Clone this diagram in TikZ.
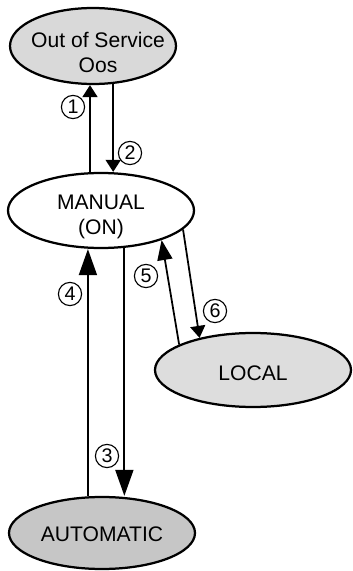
\documentclass[tikz,border=0pt]{standalone}
\usepackage{fontspec}
\setmainfont{Liberation Sans}
\usetikzlibrary{arrows.meta,shapes.geometric}

\begin{document}
\begin{tikzpicture}[line join=round]
    \tikzset{mode/.style={draw, ellipse, line width=1.6pt, inner sep=0pt},
             txt/.style={font=\fontsize{15}{18}\selectfont, align=center},
             arr/.style={line width=1.25pt,
                         -{Triangle[length=0.3cm, width=0.375cm]}},
             longarr/.style={line width=1.25pt,
                         -{Triangle[length=0.65cm, width=0.45cm]}},
             num/.style={draw, circle, line width=0.8pt, inner sep=0pt,
                         minimum size=0.58cm, font=\fontsize{14}{16}\selectfont}}
    \useasboundingbox (0,0) rectangle (8.825,14.275);
    % states
    \node[mode, fill=gray!30, minimum width=4.15cm, minimum height=1.9cm]
      (oos) at (2.325,13.125) {};
    \node[txt] (oostxt) at (2.45,12.97) {Out of Service\\Oos};
    \node[mode, fill=white, minimum width=4.65cm, minimum height=1.875cm]
      (manual) at (2.525,9.0125) {};
    \node[txt] (mantxt) at (2.525,8.86) {MANUAL\\(ON)};
    \node[mode, fill=gray!27, minimum width=4.9cm, minimum height=1.85cm]
      (local) at (6.325,5.025) {};
    \node[txt] (loctxt) at (6.325,4.95) {LOCAL};
    \node[mode, fill=gray!45, minimum width=4.65cm, minimum height=1.8cm]
      (auto) at (2.55,0.95) {};
    \node[txt] (autotxt) at (2.55,0.92) {AUTOMATIC};
    % transitions
    \draw[arr] (manual.106.5) -- (manual.106.5 |- oos.south);
    \draw[arr] (oos.298.5) -- (oos.298.5 |- manual.north);
    \draw[longarr] (manual.302) -- (manual.302 |- auto.north);
    \draw[longarr] (auto.111.5) -- (auto.111.5 |- manual.south);
    \draw[line width=1.25pt, -{Triangle[length=0.5cm, width=0.375cm]}]
      (local.161) -- (manual.334);
    \draw[arr] (manual.347) -- (local.149);
    % numbers
    \node[num] (n1) at (1.825,11.6) {1};
    \node[num] (n2) at (3.25,10.45) {2};
    \node[num] (n3) at (2.675,2.875) {3};
    \node[num] (n4) at (1.75,6.925) {4};
    \node[num] (n5) at (3.65,7.375) {5};
    \node[num] (n6) at (5.375,6.5) {6};
\end{tikzpicture}
\end{document}
